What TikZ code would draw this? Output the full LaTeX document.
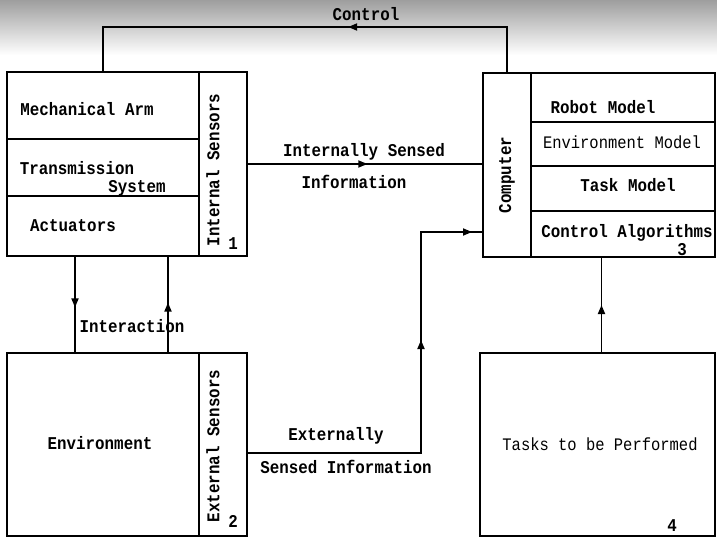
\documentclass[tikz,border=0pt]{standalone}
\usepackage{fontspec}
\newfontfamily\tw{Liberation Mono}
\usetikzlibrary{arrows.meta,decorations.markings}
% taller, narrower typewriter lettering
\newcommand\tws[1]{\scalebox{0.88}[1]{#1}}
\begin{document}
\begin{tikzpicture}[x=1pt,y=-1pt,
  box/.style={draw, line width=1.7pt, inner sep=0pt, outer sep=0pt, anchor=north west},
  wire/.style={line width=1.7pt},
  tip/.style={wire, decoration={markings, mark=at position #1 with {\arrow{Triangle[length=9pt,width=7pt]}}}, postaction={decorate}},
  bt/.style={font=\tw\bfseries\fontsize{18}{20}\selectfont, inner sep=0pt},
  lt/.style={font=\tw\fontsize{17.6}{20}\selectfont, inner sep=0pt},
]
\useasboundingbox (0,0) rectangle (717,537);
% soft grey band along the top edge
\shade[top color=black!38, bottom color=white] (0,0) rectangle (717,55);

% robot block
\node[box, minimum width=192pt, minimum height=67pt] (arm)   at (7,72)  {};
\node[box, minimum width=192pt, minimum height=57pt] (trans) at (7,139) {};
\node[box, minimum width=192pt, minimum height=60pt] (act)   at (7,196) {};
\node[box, minimum width=48pt,  minimum height=184pt] (isens) at (199,72) {};

% environment block
\node[box, minimum width=192pt, minimum height=183pt] (envm)  at (7,353)   {};
\node[box, minimum width=48pt,  minimum height=183pt] (esens) at (199,353) {};

% computer block
\node[box, minimum width=48pt,  minimum height=184pt] (comp)   at (483,73)  {};
\node[box, minimum width=184pt, minimum height=49pt]  (robm)   at (531,73)  {};
\node[box, minimum width=184pt, minimum height=44pt]  (envmod) at (531,122) {};
\node[box, minimum width=184pt, minimum height=45pt]  (taskm)  at (531,166) {};
\node[box, minimum width=184pt, minimum height=46pt]  (ctrl)   at (531,211) {};

% tasks block
\node[box, minimum width=235pt, minimum height=183pt] (tasks) at (480,353) {};

% texts
\node[bt] (tcontrol) at (366,14) {\tws{Control}};
\node[bt] (tarm)   at (87,109)  {\tws{Mechanical Arm}};
\node[bt] (ttrans) at (77,168)  {\tws{Transmission}};
\node[bt] (tsys)   at (137,188) {\tws{System}};
\node[bt] (tact)   at (73,226)  {\tws{Actuators}};
\node[bt, rotate=90] (tis) at (213,170) {\tws{Internal Sensors}};
\node[bt] (tone)   at (233,244) {\tws{1}};
\node[bt] (tinter) at (132,326) {\tws{Interaction}};
\node[bt] (tenv)   at (100,443) {\tws{Environment}};
\node[bt, rotate=90] (tes) at (213,446) {\tws{External Sensors}};
\node[bt] (ttwo)   at (233,521) {\tws{2}};
\node[bt] (tisi1)  at (364,152) {\tws{Internally Sensed}};
\node[bt] (tisi2)  at (354,182) {\tws{Information}};
\node[bt] (tesi1)  at (336,436) {\tws{Externally}};
\node[bt] (tesi2)  at (346,467) {\tws{Sensed Information}};
\node[bt, rotate=90] (tcomp) at (507,175) {\tws{Computer}};
\node[bt] (trob)   at (603,107) {\tws{Robot Model}};
\node[lt] (tenvm)  at (622,142) {\tws{Environment Model}};
\node[bt] (ttask)  at (628,185) {\tws{Task Model}};
\node[bt] (tctrl)  at (627,233) {\tws{Control Algorithms}};
\node[bt] (tthree) at (682,250) {\tws{3}};
\node[lt] (ttp)    at (600,444) {\tws{Tasks to be Performed}};
\node[bt] (tfour)  at (672,526) {\tws{4}};

% connectors
\coordinate (ctop) at (0,27);
\draw[tip=0.414] (comp.north) |- (arm.north |- ctop) -- (arm.north);

\draw[tip=0.53] ([xshift=-28pt]act.south) -- ([xshift=-28pt]envm.north);
\draw[tip=0.52] ([xshift=65pt]envm.north) -- ([xshift=65pt]act.south);

\draw[tip=0.51] (isens.east) -- (isens.east -| comp.west);

\coordinate (ebend) at (421,232);
\draw[wire, decoration={markings,
    mark=at position 0.628 with {\arrow{Triangle[length=9pt,width=7pt]}},
    mark=at position 0.976 with {\arrow{Triangle[length=9pt,width=7pt]}}},
  postaction={decorate}]
  ([yshift=-8.5pt]esens.east) -| (ebend) -- (ebend -| comp.west);

\draw[tip=0.5] ([xshift=4pt]tasks.north) -- ([xshift=4pt]tasks.north |- ctrl.south);
\end{tikzpicture}
\end{document}
